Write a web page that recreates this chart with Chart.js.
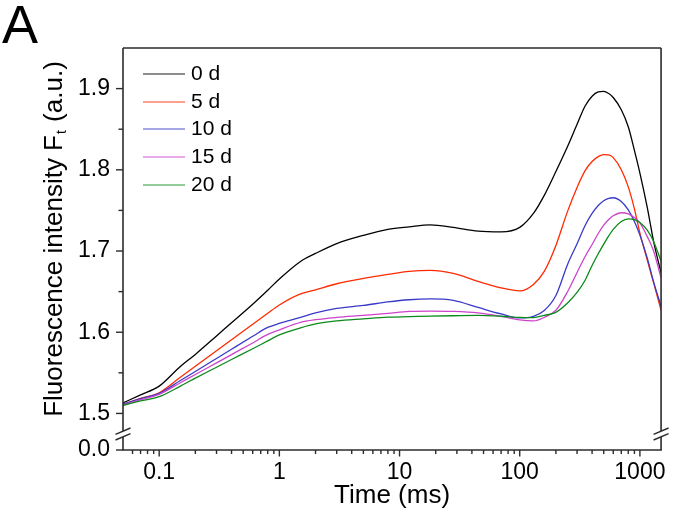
<!DOCTYPE html>
<html lang="en">
<head>
    <meta charset="UTF-8">
    <title>Fluorescence transient</title>
    <script src="https://cdn.jsdelivr.net/npm/chart.js"></script>
    <style>
        html, body { margin: 0; padding: 0; background: #fff; }
        canvas { display: block; }
    </style>
</head>
<body>
    <canvas id="myChart" width="675" height="517"></canvas>

    <script>
        // time points (ms) shared by all curves
        var timeMs = [0.05, 0.07, 0.1, 0.15, 0.2, 0.3, 0.4, 0.6, 0.8, 1,
            1.5, 2, 3, 5, 8, 12, 18, 28, 45, 70,
            100, 130, 160, 200, 250, 300, 350, 400, 450, 500,
            550, 600, 700, 800, 900, 1000, 1150, 1300, 1500];

        var day0 = [1.513, 1.5228, 1.5336, 1.5579, 1.5727, 1.5954, 1.6117, 1.6345, 1.6517, 1.6656,
            1.6872, 1.697, 1.7091, 1.7192, 1.7266, 1.7297, 1.7321, 1.7291, 1.7244, 1.7235,
            1.7291, 1.7463, 1.7685, 1.798, 1.8288, 1.856, 1.8785, 1.8906, 1.896, 1.8967,
            1.894, 1.889, 1.874, 1.853, 1.824, 1.796, 1.754, 1.712, 1.673];
        var day5 = [1.5111, 1.5185, 1.5255, 1.5446, 1.5581, 1.5772, 1.5908, 1.6099, 1.6234, 1.6336,
            1.6472, 1.6523, 1.6597, 1.6663, 1.6712, 1.6749, 1.6761, 1.6724, 1.6626, 1.6546,
            1.6509, 1.6589, 1.6749, 1.7069, 1.7488, 1.7783, 1.799, 1.8103, 1.8163, 1.8188,
            1.8184, 1.815, 1.800, 1.779, 1.752, 1.722, 1.689, 1.661, 1.627];
        var day10 = [1.5111, 1.5182, 1.5246, 1.5405, 1.5517, 1.5677, 1.5791, 1.595, 1.6059, 1.6108,
            1.6182, 1.6238, 1.6293, 1.633, 1.6373, 1.64, 1.641, 1.6392, 1.6305, 1.6225,
            1.6176, 1.6195, 1.6268, 1.6453, 1.6835, 1.7089, 1.7315, 1.7463, 1.7561, 1.762,
            1.7649, 1.7656, 1.761, 1.7506, 1.7364, 1.7196, 1.6916, 1.662, 1.632];
        var day15 = [1.5105, 1.5169, 1.5234, 1.5378, 1.5479, 1.5623, 1.5725, 1.5868, 1.5973, 1.6029,
            1.6121, 1.6154, 1.6182, 1.6207, 1.6232, 1.6256, 1.626, 1.6256, 1.6238, 1.6195,
            1.6151, 1.6139, 1.6182, 1.627, 1.6499, 1.6736, 1.6933, 1.708, 1.7216, 1.7319,
            1.7389, 1.7434, 1.7471, 1.7458, 1.7412, 1.7348, 1.718, 1.70, 1.667];
        var day20 = [1.5099, 1.5154, 1.5206, 1.5337, 1.5435, 1.5569, 1.5664, 1.5797, 1.5893, 1.5967,
            1.6053, 1.6102, 1.6139, 1.6164, 1.6185, 1.6191, 1.6198, 1.6203, 1.6207, 1.6197,
            1.6182, 1.6179, 1.6207, 1.6245, 1.636, 1.649, 1.664, 1.6822, 1.6966, 1.7084,
            1.7186, 1.7267, 1.7363, 1.7397, 1.7388, 1.735, 1.7256, 1.7118, 1.6876];

        var seriesLabels = ['0 d', '5 d', '10 d', '15 d', '20 d'];
        var seriesValues = [day0, day5, day10, day15, day20];
        var seriesColors = ['#000000', '#ff2a00', '#3a3ac8', '#cc44cc', '#0c8a1c'];

        // axis ticks
        var xMajorTicks = [0.1, 1, 10, 100, 1000];
        var xMinorTicks = [0.06, 0.07, 0.08, 0.09,
            0.2, 0.3, 0.4, 0.5, 0.6, 0.7, 0.8, 0.9,
            2, 3, 4, 5, 6, 7, 8, 9,
            20, 30, 40, 50, 60, 70, 80, 90,
            200, 300, 400, 500, 600, 700, 800, 900];
        var yMajorTicks = [1.5, 1.6, 1.7, 1.8, 1.9];
        var yMinorTicks = [1.55, 1.65, 1.75, 1.85];
        var yLowTicks = [0];

        var fontFamily = "'Liberation Sans', Arial, sans-serif";
        var axisColor = '#2b2b2b';

        // frame, tick marks, axis breaks, legend and extra labels
        var decorPlugin = {
            id: 'decor',
            afterDraw: function (chart) {
                var ctx = chart.ctx, a = chart.chartArea;
                var sx = chart.scales.x, sy = chart.scales.y, sl = chart.scales.yLow;

                function seg(x1, y1, x2, y2) {
                    ctx.beginPath();
                    ctx.moveTo(x1, y1);
                    ctx.lineTo(x2, y2);
                    ctx.stroke();
                }

                ctx.save();
                ctx.strokeStyle = axisColor;
                ctx.lineWidth = 1.6;
                seg(a.left, a.top, a.right, a.top);
                seg(a.left, a.top, a.left, a.bottom);
                seg(a.right, a.top, a.right, a.bottom);
                seg(a.left - 0.8, a.bottom, a.right + 0.8, a.bottom);

                ctx.lineWidth = 1.4;
                xMajorTicks.forEach(function (v) {
                    var px = sx.getPixelForValue(v);
                    seg(px, a.bottom, px, a.bottom + 6.5);
                });
                xMinorTicks.forEach(function (v) {
                    var px = sx.getPixelForValue(v);
                    seg(px, a.bottom, px, a.bottom + 4);
                });
                yMajorTicks.forEach(function (v) {
                    var py = sy.getPixelForValue(v);
                    seg(a.left - 7, py, a.left, py);
                });
                yMinorTicks.forEach(function (v) {
                    var py = sy.getPixelForValue(v);
                    seg(a.left - 4.5, py, a.left, py);
                });
                yLowTicks.forEach(function (v) {
                    var py = sl.getPixelForValue(v);
                    seg(a.left - 7, py, a.left, py);
                });

                // axis breaks
                var by = sy.bottom + 4;
                [a.left, a.right].forEach(function (bx) {
                    ctx.fillStyle = '#fff';
                    ctx.fillRect(bx - 2, by - 3, 4, 6);
                    ctx.strokeStyle = axisColor;
                    ctx.lineWidth = 1.4;
                    seg(bx - 7.5, by - 2.8 + 3.2, bx + 7.5, by - 2.8 - 3.2);
                    seg(bx - 7.5, by + 2.8 + 3.2, bx + 7.5, by + 2.8 - 3.2);
                });

                // legend
                ctx.font = '21px ' + fontFamily;
                ctx.textBaseline = 'middle';
                ctx.textAlign = 'left';
                seriesLabels.forEach(function (lab, i) {
                    var yy = Math.round(a.top + 26 + i * 27.7);
                    ctx.globalAlpha = 0.6;
                    ctx.strokeStyle = seriesColors[i];
                    ctx.lineWidth = 1.3;
                    seg(a.left + 20, yy, a.left + 62, yy);
                    ctx.globalAlpha = 1;
                    ctx.fillStyle = '#000';
                    ctx.fillText(lab, a.left + 68, yy);
                });

                // y axis title with subscript
                var p1 = 'Fluorescence intensity F', sub = 't', p2 = ' (a.u.)';
                ctx.font = '26px ' + fontFamily;
                var w1 = ctx.measureText(p1).width, w3 = ctx.measureText(p2).width;
                ctx.font = '14px ' + fontFamily;
                var w2 = ctx.measureText(sub).width;
                var total = w1 + w2 + w3 + 2;
                ctx.save();
                ctx.translate(62, (sy.top + sy.bottom) / 2);
                ctx.rotate(-Math.PI / 2);
                ctx.textBaseline = 'alphabetic';
                ctx.font = '26px ' + fontFamily;
                ctx.fillText(p1, -total / 2, 0);
                ctx.font = '14px ' + fontFamily;
                ctx.fillText(sub, -total / 2 + w1 + 1, 4);
                ctx.font = '26px ' + fontFamily;
                ctx.fillText(p2, -total / 2 + w1 + w2 + 2, 0);
                ctx.restore();

                // panel letter
                ctx.font = '54px ' + fontFamily;
                ctx.textBaseline = 'alphabetic';
                ctx.fillText('A', 2, 43);
                ctx.restore();
            }
        };

        var ctx = document.getElementById('myChart').getContext('2d');
        var myChart = new Chart(ctx, {
            type: 'line',
            data: {
                datasets: seriesValues.map(function (vals, i) {
                    return {
                        label: seriesLabels[i],
                        data: timeMs.map(function (t, j) { return { x: t, y: vals[j] }; }),
                        borderColor: seriesColors[i],
                        borderWidth: 1.3,
                        pointRadius: 0,
                        fill: false,
                        cubicInterpolationMode: 'monotone',
                        order: seriesValues.length - i,
                        yAxisID: 'y'
                    };
                })
            },
            options: {
                responsive: false,
                animation: false,
                events: [],
                layout: { padding: { top: 48, right: 13, left: 0, bottom: 0 } },
                plugins: {
                    legend: { display: false },
                    tooltip: { enabled: false }
                },
                scales: {
                    x: {
                        type: 'logarithmic',
                        position: 'bottom',
                        min: 0.05,
                        max: 1500,
                        grid: { display: false, drawTicks: false },
                        border: { display: false },
                        afterBuildTicks: function (s) {
                            s.ticks = xMinorTicks.concat(xMajorTicks)
                                .sort(function (p, q) { return p - q; })
                                .map(function (v) { return { value: v }; });
                        },
                        afterFit: function (s) { s.height = 67; },
                        ticks: {
                            autoSkip: false,
                            maxRotation: 0,
                            padding: 9,
                            color: '#000',
                            font: { family: fontFamily, size: 23 },
                            callback: function (v) {
                                return xMajorTicks.indexOf(v) >= 0 ? String(v) : '';
                            }
                        },
                        title: {
                            display: true,
                            text: 'Time (ms)',
                            color: '#000',
                            font: { family: fontFamily, size: 26 },
                            padding: { top: 0, bottom: 6 }
                        }
                    },
                    yLow: {
                        type: 'linear',
                        position: 'left',
                        stack: 'left',
                        stackWeight: 20,
                        min: 0,
                        max: 0.2,
                        grid: { display: false, drawTicks: false },
                        border: { display: false },
                        afterBuildTicks: function (s) {
                            s.ticks = yLowTicks.map(function (v) { return { value: v }; });
                        },
                        afterFit: function (s) { s.width = 123; },
                        ticks: {
                            padding: 13,
                            color: '#000',
                            font: { family: fontFamily, size: 23 },
                            callback: function (v) { return v.toFixed(1); }
                        }
                    },
                    y: {
                        type: 'linear',
                        position: 'left',
                        stack: 'left',
                        stackWeight: 382,
                        min: 1.4796,
                        max: 1.95,
                        grid: { display: false, drawTicks: false },
                        border: { display: false },
                        afterBuildTicks: function (s) {
                            s.ticks = yMajorTicks.map(function (v) { return { value: v }; });
                        },
                        afterFit: function (s) { s.width = 123; },
                        ticks: {
                            padding: 13,
                            color: '#000',
                            font: { family: fontFamily, size: 23 },
                            callback: function (v) { return v.toFixed(1); }
                        }
                    }
                }
            },
            plugins: [decorPlugin]
        });
    </script>
</body>
</html>
